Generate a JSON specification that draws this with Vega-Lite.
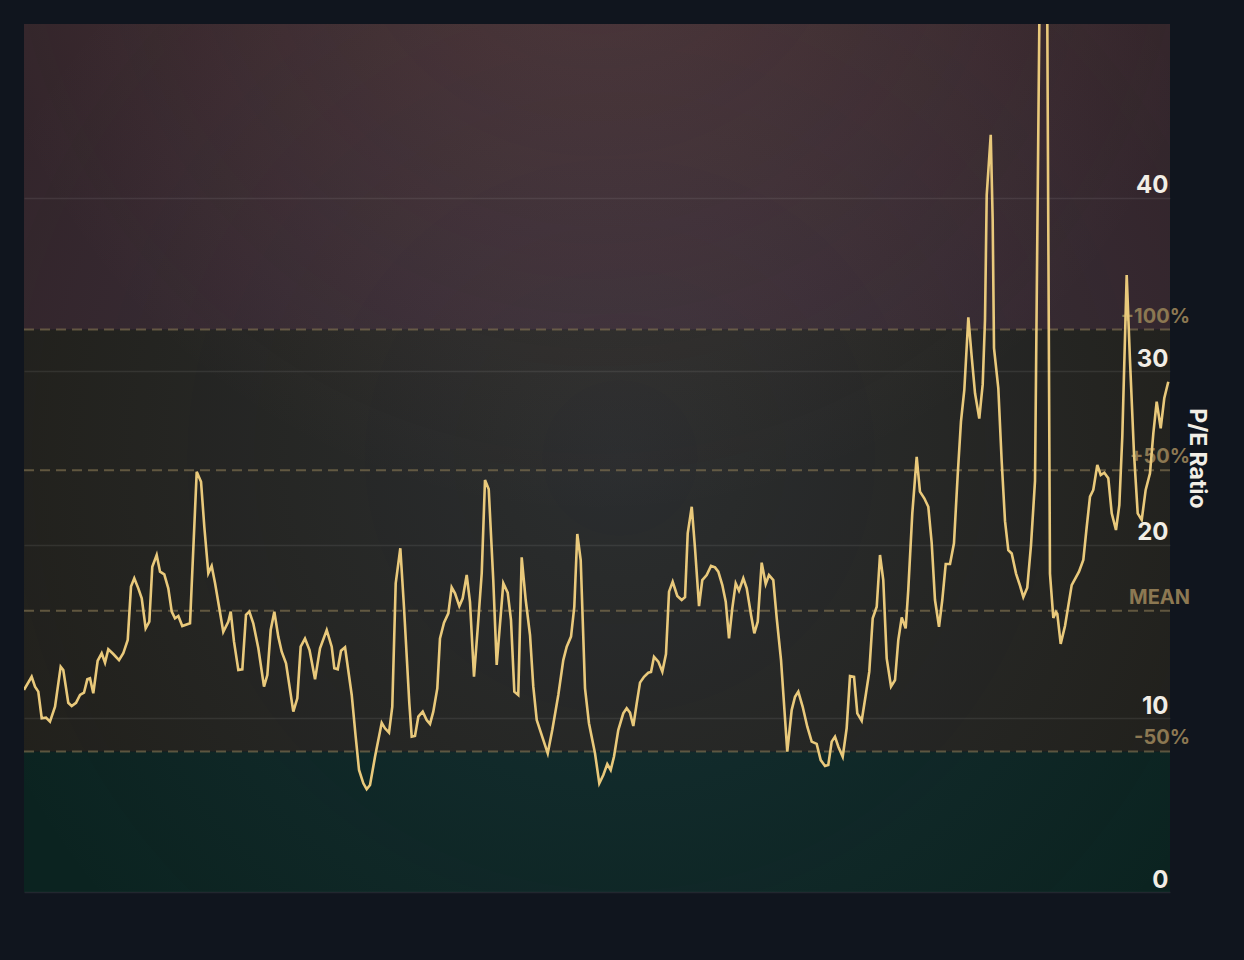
{
  "$schema": "https://vega.github.io/schema/vega-lite/v6.json",
  "width": 1146,
  "height": 868,
  "autosize": {"type": "none"},
  "padding": {"left": 24, "top": 24, "right": 74, "bottom": 68},
  "background": "#10151e",
  "config": {"view": {"stroke": null}, "font": "Inter"},
  "datasets": {
    "zones": [
      {"lo": 0, "hi": 8.1, "zone": "below"},
      {"lo": 8.1, "hi": 32.4, "zone": "fair"},
      {"lo": 32.4, "hi": 50, "zone": "above"}
    ],
    "refs": [
      {"value": 32.4, "label": "+100%"},
      {"value": 24.3, "label": "+50%"},
      {"value": 16.2, "label": "MEAN"},
      {"value": 8.1, "label": "-50%"}
    ],
    "frame": [{"start": 1871, "end": 2025, "lo": 0, "hi": 50}],
    "pe": [
      {"year":1871.00,"pe":11.64},{"year":1872.03,"pe":12.40},{"year":1872.48,"pe":11.83},{"year":1872.92,"pe":11.54},{"year":1873.38,"pe":10.01},{"year":1873.96,"pe":10.04},{"year":1874.49,"pe":9.81},{"year":1875.17,"pe":10.67},{"year":1875.93,"pe":12.98},{"year":1876.28,"pe":12.79},{"year":1876.95,"pe":10.90},{"year":1877.41,"pe":10.71},{"year":1877.99,"pe":10.90},{"year":1878.53,"pe":11.35},{"year":1879.06,"pe":11.48},{"year":1879.51,"pe":12.25},{"year":1879.87,"pe":12.31},{"year":1880.31,"pe":11.45},{"year":1880.90,"pe":13.32},{"year":1881.44,"pe":13.75},{"year":1881.89,"pe":13.21},{"year":1882.33,"pe":13.98},{"year":1883.00,"pe":13.71},{"year":1883.77,"pe":13.36},{"year":1884.34,"pe":13.75},{"year":1884.94,"pe":14.52},{"year":1885.38,"pe":17.59},{"year":1885.82,"pe":18.07},{"year":1886.36,"pe":17.49},{"year":1886.82,"pe":16.92},{"year":1887.35,"pe":15.19},{"year":1887.84,"pe":15.57},{"year":1888.24,"pe":18.74},{"year":1888.83,"pe":19.41},{"year":1889.28,"pe":18.45},{"year":1889.85,"pe":18.30},{"year":1890.39,"pe":17.49},{"year":1890.85,"pe":16.15},{"year":1891.29,"pe":15.77},{"year":1891.74,"pe":15.90},{"year":1892.27,"pe":15.32},{"year":1893.31,"pe":15.48},{"year":1894.21,"pe":24.21},{"year":1894.79,"pe":23.63},{"year":1895.23,"pe":21.04},{"year":1895.77,"pe":18.36},{"year":1896.22,"pe":18.78},{"year":1896.67,"pe":17.80},{"year":1897.78,"pe":14.99},{"year":1898.45,"pe":15.57},{"year":1898.78,"pe":16.15},{"year":1899.22,"pe":14.42},{"year":1899.80,"pe":12.79},{"year":1900.34,"pe":12.83},{"year":1900.83,"pe":15.96},{"year":1901.28,"pe":16.15},{"year":1901.81,"pe":15.48},{"year":1902.49,"pe":14.04},{"year":1903.25,"pe":11.83},{"year":1903.70,"pe":12.50},{"year":1904.15,"pe":15.09},{"year":1904.64,"pe":16.15},{"year":1905.17,"pe":14.71},{"year":1905.63,"pe":13.84},{"year":1906.21,"pe":13.17},{"year":1907.19,"pe":10.39},{"year":1907.73,"pe":11.16},{"year":1908.18,"pe":14.13},{"year":1908.76,"pe":14.60},{"year":1909.37,"pe":13.94},{"year":1910.11,"pe":12.25},{"year":1910.78,"pe":14.04},{"year":1911.68,"pe":15.09},{"year":1912.35,"pe":14.13},{"year":1912.70,"pe":12.89},{"year":1913.16,"pe":12.83},{"year":1913.60,"pe":13.90},{"year":1914.14,"pe":14.10},{"year":1915.04,"pe":11.35},{"year":1915.57,"pe":8.95},{"year":1916.02,"pe":7.03},{"year":1916.60,"pe":6.26},{"year":1917.05,"pe":5.92},{"year":1917.50,"pe":6.16},{"year":1918.17,"pe":7.79},{"year":1919.07,"pe":9.75},{"year":1919.51,"pe":9.43},{"year":1920.05,"pe":9.18},{"year":1920.49,"pe":10.67},{"year":1920.95,"pe":17.78},{"year":1921.57,"pe":19.80},{"year":1922.06,"pe":16.43},{"year":1922.78,"pe":10.87},{"year":1923.10,"pe":8.95},{"year":1923.54,"pe":8.99},{"year":1923.99,"pe":10.10},{"year":1924.58,"pe":10.39},{"year":1925.11,"pe":9.91},{"year":1925.56,"pe":9.68},{"year":1926.00,"pe":10.39},{"year":1926.54,"pe":11.73},{"year":1926.90,"pe":14.61},{"year":1927.44,"pe":15.51},{"year":1928.02,"pe":16.05},{"year":1928.47,"pe":17.55},{"year":1928.92,"pe":17.21},{"year":1929.50,"pe":16.47},{"year":1929.95,"pe":16.92},{"year":1930.49,"pe":18.26},{"year":1930.93,"pe":16.72},{"year":1931.47,"pe":12.40},{"year":1931.97,"pe":15.19},{"year":1932.51,"pe":18.36},{"year":1932.95,"pe":23.73},{"year":1933.45,"pe":23.20},{"year":1934.06,"pe":17.97},{"year":1934.52,"pe":13.08},{"year":1935.41,"pe":17.78},{"year":1936.00,"pe":17.24},{"year":1936.44,"pe":15.67},{"year":1936.89,"pe":11.54},{"year":1937.42,"pe":11.35},{"year":1937.88,"pe":19.28},{"year":1938.42,"pe":16.82},{"year":1939.00,"pe":14.80},{"year":1939.44,"pe":11.83},{"year":1939.90,"pe":9.91},{"year":1940.57,"pe":9.04},{"year":1941.38,"pe":7.99},{"year":1941.99,"pe":9.33},{"year":1942.80,"pe":11.35},{"year":1943.47,"pe":13.36},{"year":1943.93,"pe":14.13},{"year":1944.51,"pe":14.71},{"year":1944.95,"pe":16.43},{"year":1945.35,"pe":20.62},{"year":1945.81,"pe":19.12},{"year":1946.39,"pe":11.73},{"year":1946.92,"pe":9.72},{"year":1947.73,"pe":7.99},{"year":1948.31,"pe":6.26},{"year":1948.85,"pe":6.74},{"year":1949.38,"pe":7.37},{"year":1949.84,"pe":7.03},{"year":1950.28,"pe":7.79},{"year":1950.86,"pe":9.33},{"year":1951.53,"pe":10.29},{"year":1951.99,"pe":10.58},{"year":1952.43,"pe":10.33},{"year":1952.88,"pe":9.56},{"year":1953.34,"pe":10.87},{"year":1953.78,"pe":12.06},{"year":1954.32,"pe":12.40},{"year":1954.89,"pe":12.63},{"year":1955.26,"pe":12.67},{"year":1955.66,"pe":13.55},{"year":1956.24,"pe":13.27},{"year":1956.78,"pe":12.69},{"year":1957.27,"pe":13.71},{"year":1957.68,"pe":17.30},{"year":1958.17,"pe":17.87},{"year":1958.79,"pe":17.05},{"year":1959.38,"pe":16.82},{"year":1959.83,"pe":16.98},{"year":1960.19,"pe":20.66},{"year":1960.73,"pe":22.19},{"year":1961.17,"pe":19.80},{"year":1961.71,"pe":16.47},{"year":1962.15,"pe":17.97},{"year":1962.74,"pe":18.26},{"year":1963.32,"pe":18.78},{"year":1963.86,"pe":18.70},{"year":1964.30,"pe":18.45},{"year":1964.84,"pe":17.68},{"year":1965.30,"pe":16.72},{"year":1965.74,"pe":14.61},{"year":1966.18,"pe":16.34},{"year":1966.64,"pe":17.78},{"year":1967.08,"pe":17.36},{"year":1967.66,"pe":18.07},{"year":1968.12,"pe":17.49},{"year":1968.70,"pe":15.96},{"year":1969.14,"pe":14.90},{"year":1969.60,"pe":15.57},{"year":1970.13,"pe":18.97},{"year":1970.67,"pe":17.74},{"year":1971.11,"pe":18.26},{"year":1971.69,"pe":17.97},{"year":1972.15,"pe":15.77},{"year":1972.73,"pe":13.36},{"year":1973.57,"pe":8.08},{"year":1974.16,"pe":10.48},{"year":1974.61,"pe":11.25},{"year":1975.05,"pe":11.54},{"year":1975.64,"pe":10.67},{"year":1976.26,"pe":9.52},{"year":1976.85,"pe":8.66},{"year":1977.52,"pe":8.53},{"year":1978.06,"pe":7.60},{"year":1978.64,"pe":7.26},{"year":1979.08,"pe":7.32},{"year":1979.54,"pe":8.66},{"year":1979.98,"pe":8.95},{"year":1980.43,"pe":8.37},{"year":1981.02,"pe":7.79},{"year":1981.55,"pe":9.43},{"year":1982.00,"pe":12.44},{"year":1982.54,"pe":12.40},{"year":1982.98,"pe":10.29},{"year":1983.57,"pe":9.87},{"year":1984.15,"pe":11.45},{"year":1984.59,"pe":12.69},{"year":1985.05,"pe":15.77},{"year":1985.59,"pe":16.43},{"year":1986.03,"pe":19.41},{"year":1986.47,"pe":17.97},{"year":1986.93,"pe":13.46},{"year":1987.51,"pe":11.83},{"year":1988.05,"pe":12.21},{"year":1988.49,"pe":14.52},{"year":1988.95,"pe":15.82},{"year":1989.48,"pe":15.19},{"year":1989.83,"pe":17.40},{"year":1990.37,"pe":21.81},{"year":1990.96,"pe":25.07},{"year":1991.40,"pe":23.06},{"year":1991.98,"pe":22.68},{"year":1992.52,"pe":22.19},{"year":1992.98,"pe":20.09},{"year":1993.42,"pe":16.82},{"year":1993.96,"pe":15.28},{"year":1994.40,"pe":16.82},{"year":1994.86,"pe":18.89},{"year":1995.44,"pe":18.89},{"year":1995.97,"pe":20.09},{"year":1996.47,"pe":24.02},{"year":1996.91,"pe":27.09},{"year":1997.36,"pe":28.92},{"year":1997.90,"pe":33.10},{"year":1998.35,"pe":30.84},{"year":1998.80,"pe":28.73},{"year":1999.37,"pe":27.27},{"year":1999.83,"pe":29.24},{"year":2000.14,"pe":32.95},{"year":2000.37,"pe":40.14},{"year":2000.91,"pe":43.62},{"year":2001.17,"pe":38.75},{"year":2001.35,"pe":31.33},{"year":2001.93,"pe":29.01},{"year":2002.38,"pe":24.83},{"year":2002.83,"pe":21.36},{"year":2003.27,"pe":19.69},{"year":2003.73,"pe":19.50},{"year":2004.31,"pe":18.34},{"year":2004.84,"pe":17.65},{"year":2005.29,"pe":16.99},{"year":2005.82,"pe":17.53},{"year":2006.32,"pe":19.97},{"year":2006.86,"pe":23.68},{"year":2008.15,"pe":82.3},{"year":2008.87,"pe":18.34},{"year":2009.32,"pe":15.79},{"year":2009.68,"pe":16.13},{"year":2009.86,"pe":16.01},{"year":2010.31,"pe":14.29},{"year":2010.89,"pe":15.32},{"year":2011.79,"pe":17.68},{"year":2012.77,"pe":18.45},{"year":2013.35,"pe":19.12},{"year":2013.81,"pe":21.04},{"year":2014.25,"pe":22.77},{"year":2014.69,"pe":23.16},{"year":2015.23,"pe":24.60},{"year":2015.69,"pe":24.02},{"year":2016.17,"pe":24.15},{"year":2016.71,"pe":23.83},{"year":2017.17,"pe":21.81},{"year":2017.74,"pe":20.85},{"year":2018.19,"pe":22.29},{"year":2018.59,"pe":26.23},{"year":2019.18,"pe":35.54},{"year":2019.62,"pe":30.65},{"year":2020.16,"pe":25.27},{"year":2020.66,"pe":21.81},{"year":2021.20,"pe":21.43},{"year":2021.73,"pe":23.16},{"year":2022.31,"pe":24.12},{"year":2022.76,"pe":26.42},{"year":2023.21,"pe":28.24},{"year":2023.75,"pe":26.71},{"year":2024.23,"pe":28.44},{"year":2024.77,"pe":29.39}
    ]
  },
  "layer": [
    {
      "data": {"name": "zones"},
      "mark": {"type": "rect"},
      "encoding": {
        "x": {"datum": 1871, "type": "quantitative", "scale": {"domain": [1871, 2025], "nice": false, "zero": false}, "axis": null},
        "x2": {"datum": 2025},
        "y": {
          "field": "lo", "type": "quantitative",
          "scale": {"domain": [0, 50], "nice": false, "zero": true},
          "axis": {
            "orient": "right", "values": [0, 10, 20, 30, 40], "title": "P/E Ratio",
            "grid": true, "gridColor": "#ffffff", "gridOpacity": 0.08, "gridWidth": 1.5,
            "domain": false, "ticks": false, "zindex": 1,
            "labelAlign": "right", "labelBaseline": "bottom", "labelPadding": -2,
            "labelFont": "Inter", "labelFontSize": 24, "labelFontWeight": "bold", "labelColor": "#f2eee6",
            "titleFont": "Inter", "titleFontSize": 23, "titleFontWeight": "bold", "titleColor": "#f2eee6",
            "titleAngle": 90, "titleX": 26, "titleY": 434, "titleAlign": "center", "titleBaseline": "middle"
          }
        },
        "y2": {"field": "hi"},
        "color": {"field": "zone", "type": "nominal", "scale": {"domain": ["below", "fair", "above"], "range": ["#0b2320", "#21201b", "#33252b"]}, "legend": null}
      }
    },
    {
      "data": {"name": "frame"},
      "mark": {"type": "rect", "fill": {"gradient": "radial", "x1": 0.52, "y1": 0.5, "r1": 0, "x2": 0.52, "y2": 0.5, "r2": 0.6, "stops": [{"offset": 0, "color": "rgba(110,140,190,0.12)"}, {"offset": 1, "color": "rgba(110,140,190,0)"}]}},
      "encoding": {
        "x": {"field": "start", "type": "quantitative"},
        "x2": {"field": "end"},
        "y": {"field": "lo", "type": "quantitative"},
        "y2": {"field": "hi"}
      }
    },
    {
      "data": {"name": "frame"},
      "mark": {"type": "rect", "fill": {"gradient": "radial", "x1": 0.5, "y1": 0, "r1": 0, "x2": 0.5, "y2": 0, "r2": 0.55, "stops": [{"offset": 0, "color": "rgba(220,140,110,0.14)"}, {"offset": 1, "color": "rgba(220,140,110,0)"}]}},
      "encoding": {
        "x": {"field": "start", "type": "quantitative"},
        "x2": {"field": "end"},
        "y": {"field": "lo", "type": "quantitative"},
        "y2": {"field": "hi"}
      }
    },
    {
      "data": {"name": "refs"},
      "mark": {"type": "rule", "strokeDash": [10, 6], "strokeWidth": 2, "color": "#8a7a55", "opacity": 0.6},
      "encoding": {"y": {"field": "value", "type": "quantitative"}}
    },
    {
      "data": {"name": "refs"},
      "mark": {"type": "text", "align": "right", "baseline": "bottom", "dy": -3, "font": "Inter", "fontSize": 20, "fontWeight": "bold", "color": "#8c7852"},
      "encoding": {
        "x": {"datum": 2027.69, "type": "quantitative"},
        "y": {"field": "value", "type": "quantitative"},
        "text": {"field": "label"}
      }
    },
    {
      "data": {"name": "pe"},
      "mark": {"type": "line", "color": "#e9c97b", "strokeWidth": 2.6, "clip": true, "interpolate": "linear"},
      "encoding": {
        "x": {"field": "year", "type": "quantitative"},
        "y": {"field": "pe", "type": "quantitative"}
      }
    }
  ]
}
